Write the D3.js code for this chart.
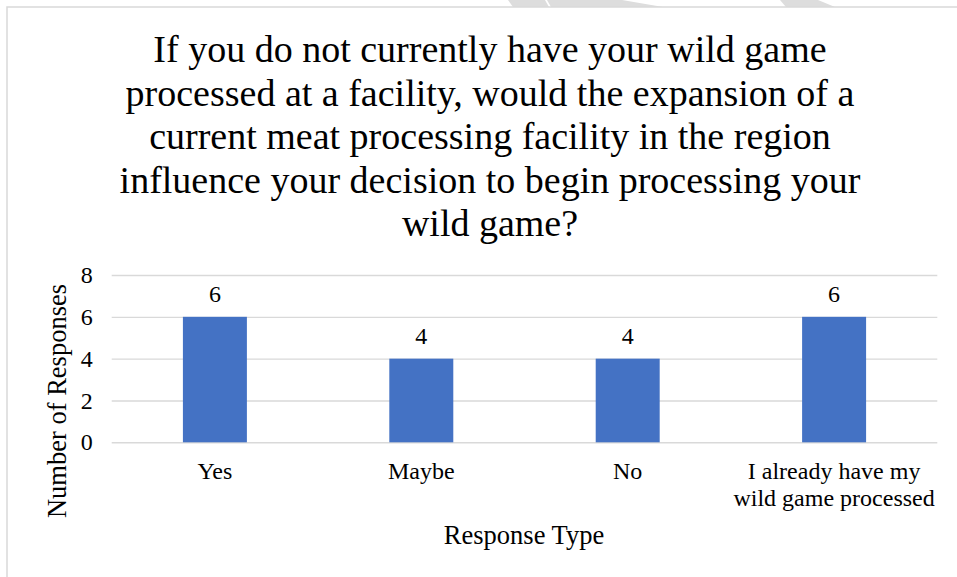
<!DOCTYPE html>
<html>
<head>
<meta charset="utf-8">
<script src="https://cdn.jsdelivr.net/npm/d3@7/dist/d3.min.js"></script>
<style>
  html, body { margin: 0; padding: 0; background: #ffffff; }
  svg { display: block; }
  text { font-family: "Liberation Serif", "Times New Roman", serif; fill: #000000; }
</style>
</head>
<body>
<svg id="chart" width="957" height="577"></svg>
<script>
// Survey responses
const categories = ["Yes", "Maybe", "No", "I already have my wild game processed"];
const responses = [6, 4, 4, 6];
const yTicks = [0, 2, 4, 6, 8];
const titleLines = [
  "If you do not currently have your wild game",
  "processed at a facility, would the expansion of a",
  "current meat processing facility in the region",
  "influence your decision to begin processing your",
  "wild game?"
];
const xTitle = "Response Type";
const yTitle = "Number of Responses";

const W = 957, H = 577;
const plot = { left: 111.7, right: 937.3, top: 275, bottom: 442.3 };
const barColor = "#4472C4";
const gridColor = "#d9d9d9";

const svg = d3.select("#chart");

// faint diagonal stripes peeking above the frame
const stripes = [
  [[508, 0], [545, 0], [549, 7], [513, 7]],
  [[547, 0], [622, 0], [663, 7], [551, 7]],
  [[780, 0], [818, 0], [835, 7], [786, 7]]
];
svg.append("g").selectAll("polygon").data(stripes).join("polygon")
  .attr("points", d => d.map(p => p.join(",")).join(" "))
  .attr("fill", "#dddddd");

// chart frame (top and left edges)
svg.append("path")
  .attr("d", `M7,${H} L7,7 L${W},7`)
  .attr("fill", "none")
  .attr("stroke", gridColor)
  .attr("stroke-width", 1.5);

// title
svg.append("text")
  .attr("text-anchor", "middle")
  .attr("font-size", 38)
  .selectAll("tspan").data(titleLines).join("tspan")
  .attr("x", 490)
  .attr("y", (d, i) => 62 + i * 43.5)
  .text(d => d);

const x = d3.scaleBand()
  .domain(categories)
  .range([plot.left, plot.right])
  .paddingInner(0.69)
  .paddingOuter(0.345);

const y = d3.scaleLinear()
  .domain([0, 8])
  .range([plot.bottom, plot.top]);

// horizontal gridlines
svg.append("g")
  .attr("transform", `translate(${plot.left},0)`)
  .call(d3.axisLeft(y).tickValues(yTicks).tickSize(-(plot.right - plot.left)).tickFormat(""))
  .call(g => g.select(".domain").remove())
  .call(g => g.selectAll("line").attr("stroke", gridColor).attr("stroke-width", 1.4));

// y tick labels
svg.append("g")
  .attr("transform", `translate(${plot.left},0)`)
  .call(d3.axisLeft(y).tickValues(yTicks).tickSize(0).tickPadding(19))
  .call(g => g.select(".domain").remove())
  .call(g => g.selectAll("text")
    .attr("font-family", "Liberation Serif, Times New Roman, serif")
    .attr("font-size", 24)
    .attr("fill", "#000"));

// bars
svg.append("g").selectAll("rect").data(responses).join("rect")
  .attr("x", (d, i) => x(categories[i]))
  .attr("y", d => y(d))
  .attr("width", x.bandwidth())
  .attr("height", d => y(0) - y(d))
  .attr("fill", barColor);

// value labels
svg.append("g").selectAll("text").data(responses).join("text")
  .attr("x", (d, i) => x(categories[i]) + x.bandwidth() / 2)
  .attr("y", d => y(d) - 15)
  .attr("text-anchor", "middle")
  .attr("font-size", 24)
  .text(d => d);

// category labels, wrapped to the band width
const step = x.step();
const catG = svg.append("g");
categories.forEach(cat => {
  const t = catG.append("text")
    .attr("text-anchor", "middle")
    .attr("font-size", 24);
  const cx = x(cat) + x.bandwidth() / 2;
  const words = cat.split(" ");
  let lines = [], line = [];
  const probe = t.append("tspan");
  words.forEach(w => {
    const test = line.concat(w).join(" ");
    probe.text(test);
    if (probe.node().getComputedTextLength() > step && line.length) {
      lines.push(line.join(" "));
      line = [w];
    } else {
      line.push(w);
    }
  });
  lines.push(line.join(" "));
  probe.remove();
  t.selectAll("tspan").data(lines).join("tspan")
    .attr("x", cx)
    .attr("y", (d, i) => 479 + i * 26.5)
    .text(d => d);
});

// axis titles
svg.append("text")
  .attr("x", 524)
  .attr("y", 544)
  .attr("text-anchor", "middle")
  .attr("font-size", 26.5)
  .text(xTitle);

svg.append("text")
  .attr("transform", `translate(66,401) rotate(-90)`)
  .attr("text-anchor", "middle")
  .attr("font-size", 26.5)
  .text(yTitle);
</script>
</body>
</html>
